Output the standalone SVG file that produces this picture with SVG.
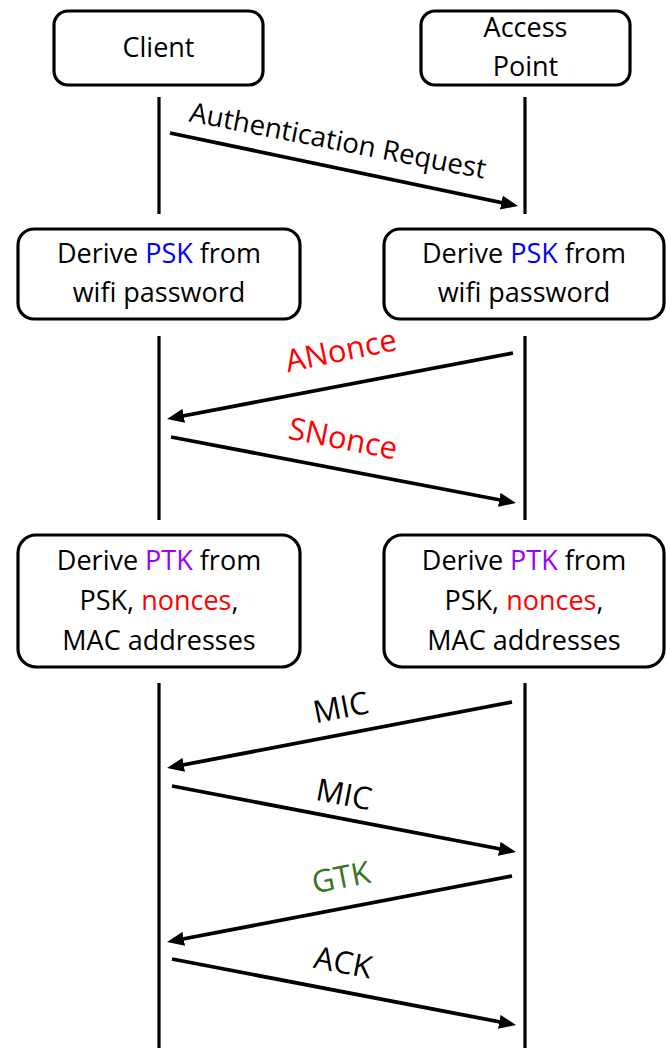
<svg xmlns="http://www.w3.org/2000/svg" width="666" height="1048" viewBox="0 0 666 1048">
<style>
.box{fill:#fff;stroke:#000;stroke-width:3.2}
.life{stroke:#000;stroke-width:3.2;fill:none}
.msg{stroke:#000;stroke-width:3.8;fill:none;marker-end:url(#ah)}
text{font-family:"Open Sans","Liberation Sans",sans-serif;fill:#000}
.t{font-size:27px;text-anchor:middle}
.auth{font-size:27.6px;text-anchor:middle}
.lbl{font-size:31px;text-anchor:middle}
.blue{fill:#0000FF}.purple{fill:#9900FF}.red{fill:#FF0000}.green{fill:#38761D}
</style>
<defs>
<marker id="ah" viewBox="0 0 17 14" refX="9" refY="7" markerWidth="17" markerHeight="14" markerUnits="userSpaceOnUse" orient="auto">
<path d="M0,0 L17,7 L0,14 Z" fill="#000"/>
</marker>
</defs>
<g id="client"><rect class="box" x="54" y="11" width="209" height="74" rx="14"/><text class="t" x="158.5" y="57">Client</text></g>
<g id="ap"><rect class="box" x="421" y="11" width="209" height="74" rx="14"/><text class="t" x="525.5" y="37">Access</text><text class="t" x="525.5" y="76">Point</text></g>
<g id="psk-client"><rect class="box" x="18" y="229" width="282" height="90" rx="16"/><text class="t" x="159" y="263">Derive <tspan class="blue">PSK</tspan> from</text><text class="t" x="159" y="302">wifi password</text></g>
<g id="psk-ap"><rect class="box" x="384" y="229" width="280" height="90" rx="16"/><text class="t" x="524" y="263">Derive <tspan class="blue">PSK</tspan> from</text><text class="t" x="524" y="302">wifi password</text></g>
<g id="ptk-client"><rect class="box" x="18" y="535" width="282" height="132" rx="18"/><text class="t" x="159" y="570">Derive <tspan class="purple">PTK</tspan> from</text><text class="t" x="159" y="610">PSK, <tspan class="red">nonces</tspan>,</text><text class="t" x="159" y="650">MAC addresses</text></g>
<g id="ptk-ap"><rect class="box" x="384" y="535" width="280" height="132" rx="18"/><text class="t" x="524" y="570">Derive <tspan class="purple">PTK</tspan> from</text><text class="t" x="524" y="610">PSK, <tspan class="red">nonces</tspan>,</text><text class="t" x="524" y="650">MAC addresses</text></g>
<g id="lifelines">
<path class="life" d="M159,97 V214 M525,97 V214 M159,336 V520 M525,336 V520 M159,683 V1048 M525,683 V1048"/>
</g>
<g id="connectors">
<line class="msg" x1="170" y1="133" x2="510.2" y2="204.4"/>
<line class="msg" x1="513" y1="353" x2="174.9" y2="417.5"/>
<line class="msg" x1="171" y1="437" x2="508.1" y2="501.5"/>
<line class="msg" x1="512" y1="702" x2="174.9" y2="766.5"/>
<line class="msg" x1="172" y1="786" x2="508.1" y2="850.5"/>
<line class="msg" x1="512" y1="876" x2="174.9" y2="940.5"/>
<line class="msg" x1="172" y1="959" x2="508.1" y2="1023.5"/>
<text class="auth" transform="translate(336,150) rotate(11)">Authentication Request</text>
<text class="lbl red" transform="translate(343,361) rotate(-11.5)">ANonce</text>
<text class="lbl red" transform="translate(341,449) rotate(11)">SNonce</text>
<text class="lbl" transform="translate(343,718) rotate(-11)">MIC</text>
<text class="lbl" transform="translate(342,805) rotate(11)">MIC</text>
<text class="lbl green" transform="translate(343,888) rotate(-11)">GTK</text>
<text class="lbl" transform="translate(341,973) rotate(11)">ACK</text>
</g>
</svg>
